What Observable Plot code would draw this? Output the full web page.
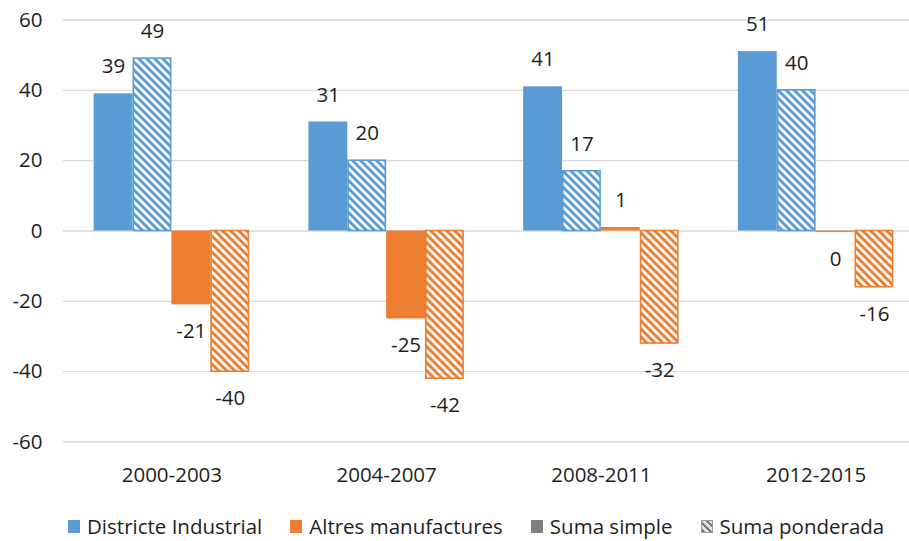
<!DOCTYPE html>
<html>
<head>
<meta charset="utf-8">
<script src="https://cdn.jsdelivr.net/npm/d3@7"></script>
<script src="https://cdn.jsdelivr.net/npm/@observablehq/plot@0.6"></script>
<style>
  html, body { margin: 0; padding: 0; background: #fff; }
  #wrap { position: relative; width: 909px; height: 541px; font-family: "Open Sans", sans-serif; color: #1e1e1e; }
  #legend { position: absolute; left: 68px; top: 514px; height: 24px; display: flex; align-items: center; font-size: 20.5px; white-space: nowrap; }
  .item { display: flex; align-items: center; margin-right: 28px; }
  .sw { width: 12px; height: 13px; margin-right: 7px; display: inline-block; }
</style>
</head>
<body>
<div id="wrap"></div>
<script>
// ---- data ----
const periods = ["2000-2003", "2004-2007", "2008-2011", "2012-2015"];
const districteSimple = [39, 31, 41, 51];
const districtePonderada = [49, 20, 17, 40];
const altresSimple = [-21, -25, 1, -0.4];
const altresPonderada = [-40, -42, -32, -16];
const yTicks = [-60, -40, -20, 0, 20, 40, 60];
const legendLabels = ["Districte Industrial", "Altres manufactures", "Suma simple", "Suma ponderada"];

const BLUE = "#5B9BD5", ORANGE = "#ED7D31", GRAY = "#808080";
const TEXT = "#1e1e1e";

const series = [
  {values: districteSimple, color: BLUE, hatched: false, id: "b"},
  {values: districtePonderada, color: BLUE, hatched: true, id: "b"},
  {values: altresSimple, color: ORANGE, hatched: false, id: "o"},
  {values: altresPonderada, color: ORANGE, hatched: true, id: "o"}
];

const xRange = [64, 923], padIn = 0.276, padOut = 0.138;
const bw = d3.scaleBand().domain(periods).range(xRange).paddingInner(padIn).paddingOuter(padOut).bandwidth();
const barW = bw / 4;
const fmt = v => String(Math.round(v) === 0 ? 0 : Math.round(v));

const marks = [Plot.ruleY(yTicks, {stroke: "#d9d9d9", strokeWidth: 1.3})];
series.forEach((s, i) => {
  const rows = periods.map((p, j) => ({period: p, value: s.values[j]}));
  marks.push(Plot.rectY(rows, {
    x: "period", y1: 0, y2: "value",
    fill: s.hatched ? `url(#hatch-${s.id})` : s.color,
    stroke: s.hatched ? s.color : "none",
    strokeWidth: 1.6,
    insetLeft: i * barW + (s.hatched ? 0.8 : 0),
    insetRight: (3 - i) * barW + (s.hatched ? 0.8 : 0)
  }));
  marks.push(Plot.text(rows.filter(d => d.value >= 0), {
    x: "period", y: "value", text: d => fmt(d.value),
    dx: (i - 1.5) * barW, dy: -27, fontSize: 20.5, fill: TEXT, lineAnchor: "middle"
  }));
  marks.push(Plot.text(rows.filter(d => d.value < 0), {
    x: "period", y: "value", text: d => fmt(d.value),
    dx: (i - 1.5) * barW, dy: 27, fontSize: 20.5, fill: TEXT, lineAnchor: "middle"
  }));
});
// category labels
marks.push(Plot.text(periods, {x: d => d, frameAnchor: "bottom", dy: 33, fontSize: 20.5, fill: TEXT, lineAnchor: "middle"}));
// y tick labels
marks.push(Plot.text(yTicks, {y: d => d, text: d => String(d), frameAnchor: "left", dx: -21, textAnchor: "end", fontSize: 20.5, fill: TEXT, lineAnchor: "middle"}));

const chart = Plot.plot({
  width: 909,
  height: 495,
  marginTop: 19.5,
  marginBottom: 53.5,
  marginLeft: 63,
  marginRight: 0,
  style: {fontFamily: "Open Sans, sans-serif", fontSize: "20.5px", color: TEXT, background: "transparent", overflow: "visible"},
  x: {domain: periods, range: xRange, paddingInner: padIn, paddingOuter: padOut, round: false, axis: null},
  y: {domain: [-60, 60], axis: null},
  marks
});

// hatch patterns
const NS = "http://www.w3.org/2000/svg";
function el(name, attrs) { const e = document.createElementNS(NS, name); for (const k in attrs) e.setAttribute(k, attrs[k]); return e; }
const defs = el("defs", {});
[["b", BLUE], ["o", ORANGE]].forEach(([id, c]) => {
  const p = el("pattern", {id: "hatch-" + id, patternUnits: "userSpaceOnUse", width: 8, height: 8});
  p.appendChild(el("rect", {width: 8, height: 8, fill: "#fff"}));
  p.appendChild(el("path", {d: "M-1,-1L9,9M-1,7L1,9M7,-1L9,1", stroke: c, "stroke-width": 2.9}));
  defs.appendChild(p);
});
chart.insertBefore(defs, chart.firstChild);

const wrap = document.getElementById("wrap");
wrap.appendChild(chart);

// legend
const legend = document.createElement("div");
legend.id = "legend";
const swatchStyles = [
  `background:${BLUE}`,
  `background:${ORANGE}`,
  `background:${GRAY}`,
  `background: repeating-linear-gradient(45deg, #7a7a7a 0 2.5px, #e0e0e0 2.5px 5px); border:1px solid #999; width:10px; height:11px;`
];
legendLabels.forEach((t, i) => {
  const item = document.createElement("span");
  item.className = "item";
  const sw = document.createElement("span");
  sw.className = "sw";
  sw.setAttribute("style", swatchStyles[i]);
  const tx = document.createElement("span");
  tx.textContent = t;
  item.appendChild(sw); item.appendChild(tx);
  legend.appendChild(item);
});
wrap.appendChild(legend);
</script>
</body>
</html>
